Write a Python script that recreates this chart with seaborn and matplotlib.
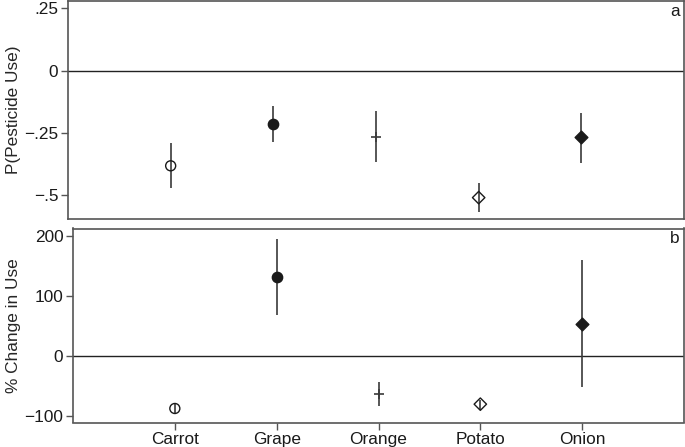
import matplotlib
matplotlib.use("Agg")
import matplotlib.pyplot as plt
import seaborn as sns
import pandas as pd

crops = ["Carrot", "Grape", "Orange", "Potato", "Onion"]

# Panel a: P(Pesticide Use)
p_est = [-0.383, -0.216, -0.267, -0.511, -0.269]
p_lo = [-0.473, -0.287, -0.369, -0.568, -0.371]
p_hi = [-0.292, -0.143, -0.163, -0.454, -0.169]

# Panel b: % Change in Use
pct_est = [-87.8, 131.9, -62.8, -80.6, 52.9]
pct_lo = [-95.0, 69.0, -84.0, -89.5, -51.7]
pct_hi = [-80.6, 196.0, -43.4, -72.8, 159.8]

a_ticks = [0.25, 0, -0.25, -0.5]
a_ticklabels = [".25", "0", "\u2212.25", "\u2212.5"]
b_ticks = [200, 100, 0, -100]
b_ticklabels = ["200", "100", "0", "\u2212100"]

markers = ["o", "o", "+", "D", "D"]
filled = [False, True, True, False, True]
msizes = [52, 55, 60, 40, 42]

sns.set_style("white")
plt.rcParams["font.family"] = ["Liberation Sans", "DejaVu Sans"]

fig = plt.figure(figsize=(6.85, 4.47), dpi=100)
W, H = 685, 447
ax_a = fig.add_axes([68 / W, 1 - 219 / H, 616 / W, 218.5 / H])
ax_b = fig.add_axes([73 / W, 1 - 422.5 / H, 611 / W, 194 / H])

line_col = "#3a3a3a"
spine_col = "#555555"
FS = 12.4


def draw(ax, est, lo, hi, ticks, ticklabels, ylim, ylabel, letter, show_x):
    df = pd.DataFrame({"crop": crops, "est": est, "lo": lo, "hi": hi})
    ax.axhline(0, color="#222222", lw=1.0, zorder=1)
    ax.vlines(df["crop"], df["lo"], df["hi"], color=line_col, lw=1.2, zorder=2)
    for i, c in enumerate(crops):
        sub = df[df["crop"] == c]
        m = markers[i]
        if m == "+":
            sns.scatterplot(data=sub, x="crop", y="est", marker="+", s=msizes[i],
                            color=line_col, linewidth=1.2, ax=ax, zorder=3)
        else:
            fc = "#1a1a1a" if filled[i] else "none"
            sns.scatterplot(data=sub, x="crop", y="est", marker=m, s=msizes[i],
                            facecolor=fc, edgecolor="#1a1a1a", linewidth=1.0,
                            ax=ax, zorder=3)
    ax.set_xlim(-1, 5)
    ax.set_ylim(*ylim)
    ax.set_yticks(ticks)
    ax.set_yticklabels(ticklabels, fontsize=FS)
    ax.set_ylabel(ylabel, fontsize=FS, labelpad=4)
    ax.set_xlabel("")
    if show_x:
        ax.set_xticks(range(len(crops)))
        ax.set_xticklabels(crops, fontsize=FS)
    else:
        ax.set_xticks([])
    ax.tick_params(axis="both", direction="out", length=5, width=1,
                   color=spine_col, pad=2, labelcolor="#1a1a1a")
    ax.tick_params(axis="x", bottom=show_x)
    ax.tick_params(axis="y", left=True)
    for s in ax.spines.values():
        s.set_color(spine_col)
        s.set_linewidth(1.2)
    ax.text(0.993, 0.985, letter, transform=ax.transAxes, ha="right", va="top",
            fontsize=FS, color="#1a1a1a")


draw(ax_a, p_est, p_lo, p_hi, a_ticks, a_ticklabels, (-0.597, 0.282),
     "P(Pesticide Use)", "a", False)
draw(ax_b, pct_est, pct_lo, pct_hi, b_ticks, b_ticklabels, (-111.2, 212.7),
     "% Change in Use", "b", True)

ax_a.yaxis.set_label_coords(-0.076, 0.5)
ax_b.yaxis.set_label_coords(-0.085, 0.5)

fig.savefig("out.png", dpi=100)
